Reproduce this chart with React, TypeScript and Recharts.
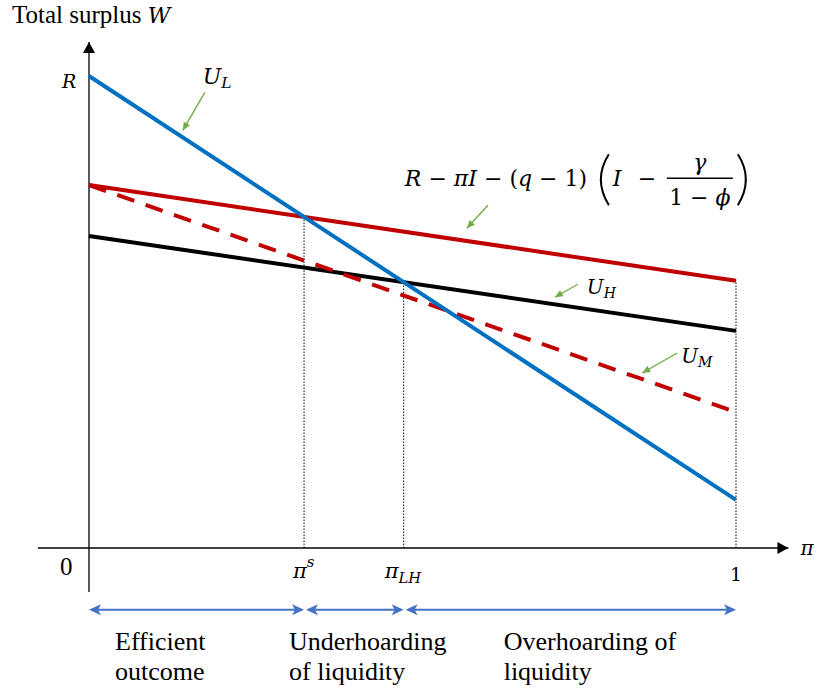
import React from 'react';
import { ComposedChart, Line, XAxis, YAxis, ReferenceLine, ReferenceDot } from 'recharts';

// values at pi = 0 and pi = 1 (units: R = 10)
const piEnds = [0, 1];
const uL = [10, 1.02];
const redSolid = [7.69, 5.66];
const uH = [6.61, 4.6];
const uM = [7.69, 2.88];
const regionLabels = [
  ['Efficient', 'outcome'],
  ['Underhoarding', 'of liquidity'],
  ['Overhoarding of', 'liquidity'],
];

const data = piEnds.map((p, i) => ({ pi: p, uL: uL[i], red: redSolid[i], uH: uH[i], uM: uM[i] }));

const cross = (a: number[], b: number[]) => {
  const x = (b[0] - a[0]) / ((a[1] - a[0]) - (b[1] - b[0]));
  return { x, y: a[0] + (a[1] - a[0]) * x };
};
const at = (s: number[], x: number) => s[0] + (s[1] - s[0]) * x;
const piS = cross(uL, redSolid);
const piLH = cross(uL, uH);

const TEXT = "'Liberation Serif', serif";
const MATH = "'DejaVu Serif', serif";
const BLUE = '#0070C0';
const RED = '#C00000';
const GREEN = '#70AD47';
const ARROWBLUE = '#4472C4';

const arrowHead = (tx: number, ty: number, fx: number, fy: number, len: number, half: number, notch: number, fill: string) => {
  const dx = tx - fx, dy = ty - fy;
  const d = Math.hypot(dx, dy) || 1;
  const ux = dx / d, uy = dy / d;
  const px = -uy, py = ux;
  const bx = tx - ux * len, by = ty - uy * len;
  const nx = tx - ux * (len - notch), ny = ty - uy * (len - notch);
  const pts = [
    [tx, ty],
    [bx + px * half, by + py * half],
    [nx, ny],
    [bx - px * half, by - py * half],
  ];
  return <polygon points={pts.map((p) => p.join(',')).join(' ')} fill={fill} />;
};

const AxisArrow = (props: any) => {
  const { x1, y1, x2, y2 } = props;
  return (
    <g>
      <line x1={x1} y1={y1} x2={x2} y2={y2} stroke="#000" strokeWidth={1.3} />
      {arrowHead(x2, y2, x1, y1, 11, 6, 0, '#000')}
    </g>
  );
};

const DoubleArrow = (props: any) => {
  const { x1, y1, x2, y2 } = props;
  return (
    <g>
      <line x1={x1 + 3} y1={y1} x2={x2 - 3} y2={y2} stroke={ARROWBLUE} strokeWidth={2} />
      {arrowHead(x1, y1, x2, y2, 12, 5.5, 3, ARROWBLUE)}
      {arrowHead(x2, y2, x1, y1, 12, 5.5, 3, ARROWBLUE)}
    </g>
  );
};

const DottedV = (props: any) => {
  const { x1, y1, x2, y2 } = props;
  return <line x1={x1} y1={y1} x2={x2} y2={y2} stroke="#000" strokeWidth={1} strokeDasharray="1.5 1.5" />;
};

const GreenArrow = ({ tx, ty, fx, fy }: any) => (
  <g>
    <line x1={fx} y1={fy} x2={tx} y2={ty} stroke={GREEN} strokeWidth={1.4} />
    {arrowHead(tx, ty, fx, fy, 8, 3.5, 0, GREEN)}
  </g>
);

const Sub = ({ x, y, main, sub, size = 22, drop = 4 }: any) => (
  <text x={x} y={y} style={{ fontFamily: MATH, fontStyle: 'italic', fontSize: size }} fill="#000">
    {main}
    <tspan dy={drop} style={{ fontSize: size * 0.7 }}>{sub}</tspan>
  </text>
);

const Callout = (label: (cx: number, cy: number) => React.ReactNode, fx: number, fy: number) => (p: any) => {
  const { cx, cy } = p;
  return (
    <g>
      <GreenArrow tx={cx} ty={cy} fx={cx + fx} fy={cy + fy} />
      {label(cx, cy)}
    </g>
  );
};

const it = { fontStyle: 'italic' as const };

export default function App() {
  return (
    <div style={{ position: 'absolute', left: 0, top: 0, width: 817, height: 694 }}>
      <ComposedChart width={817} height={694} data={data} margin={{ top: 0, right: 0, bottom: 0, left: 0 }} style={{ overflow: 'visible' }}>
        <XAxis dataKey="pi" type="number" domain={[-0.13756, 1.12519]} allowDataOverflow hide />
        <YAxis type="number" domain={[-3.0932, 11.6102]} allowDataOverflow hide />

        {/* axes */}
        <ReferenceLine segment={[{ x: -0.079, y: 0 }, { x: 1.081, y: 0 }]} shape={AxisArrow} ifOverflow="visible" />
        <ReferenceLine segment={[{ x: 0, y: -0.93 }, { x: 0, y: 10.72 }]} shape={AxisArrow} ifOverflow="visible" />

        {/* dotted guides */}
        <ReferenceLine segment={[{ x: piS.x, y: 0 }, { x: piS.x, y: piS.y }]} shape={DottedV} ifOverflow="visible" />
        <ReferenceLine segment={[{ x: piLH.x, y: 0 }, { x: piLH.x, y: piLH.y }]} shape={DottedV} ifOverflow="visible" />
        <ReferenceLine segment={[{ x: 1, y: 0 }, { x: 1, y: redSolid[1] }]} shape={DottedV} ifOverflow="visible" />

        <Line dataKey="red" type="linear" stroke={RED} strokeWidth={4} dot={false} activeDot={false} isAnimationActive={false} />
        <Line dataKey="uH" type="linear" stroke="#000" strokeWidth={4} dot={false} activeDot={false} isAnimationActive={false} />
        <Line dataKey="uM" type="linear" stroke={RED} strokeWidth={4} strokeDasharray="18 12" dot={false} activeDot={false} isAnimationActive={false} />
        <Line dataKey="uL" type="linear" stroke={BLUE} strokeWidth={4} dot={false} activeDot={false} isAnimationActive={false} />

        {/* region arrows */}
        <ReferenceLine segment={[{ x: 0, y: -1.31 }, { x: piS.x, y: -1.31 }]} shape={DoubleArrow} ifOverflow="visible" />
        <ReferenceLine segment={[{ x: piS.x + 0.003, y: -1.31 }, { x: piLH.x, y: -1.31 }]} shape={DoubleArrow} ifOverflow="visible" />
        <ReferenceLine segment={[{ x: piLH.x + 0.003, y: -1.31 }, { x: 1, y: -1.31 }]} shape={DoubleArrow} ifOverflow="visible" />

        {/* axis labels */}
        <ReferenceDot x={0} y={10.72} ifOverflow="visible" shape={(p: any) => (
          <text x={p.cx - 77} y={p.cy - 19} style={{ fontFamily: TEXT, fontSize: 25 }} fill="#000">
            Total surplus <tspan style={{ fontFamily: MATH, fontStyle: 'italic', fontSize: 22 }}>W</tspan>
          </text>
        )} />
        <ReferenceDot x={0} y={uL[0]} ifOverflow="visible" shape={(p: any) => (
          <text x={p.cx - 27} y={p.cy + 12} style={{ fontFamily: MATH, fontStyle: 'italic', fontSize: 19 }} fill="#000">R</text>
        )} />
        <ReferenceDot x={0} y={0} ifOverflow="visible" shape={(p: any) => (
          <text x={p.cx - 29} y={p.cy + 27} style={{ fontFamily: TEXT, fontSize: 25 }} fill="#000">0</text>
        )} />
        <ReferenceDot x={1} y={0} ifOverflow="visible" shape={(p: any) => (
          <text x={p.cx} y={p.cy + 33} textAnchor="middle" style={{ fontFamily: MATH, fontSize: 19 }} fill="#000">1</text>
        )} />
        <ReferenceDot x={1.081} y={0} ifOverflow="visible" shape={(p: any) => (
          <text x={p.cx + 12} y={p.cy + 7} style={{ fontFamily: MATH, fontStyle: 'italic', fontSize: 20 }} fill="#000">π</text>
        )} />
        <ReferenceDot x={piS.x} y={0} ifOverflow="visible" shape={(p: any) => (
          <text x={p.cx - 11} y={p.cy + 30} style={{ fontFamily: MATH, fontStyle: 'italic', fontSize: 21 }} fill="#000">
            π<tspan dy={-11} style={{ fontSize: 15 }}>s</tspan>
          </text>
        )} />
        <ReferenceDot x={piLH.x} y={0} ifOverflow="visible" shape={(p: any) => (
          <Sub x={p.cx - 19} y={p.cy + 30} main="π" sub="LH" size={21} drop={5} />
        )} />

        {/* region labels */}
        {[0, piS.x, piLH.x].map((x, i) => (
          <ReferenceDot key={i} x={x} y={-1.31} ifOverflow="visible" shape={(p: any) => {
            const lx = p.cx + [26, -15, 100][i];
            return (
              <text x={lx} y={p.cy + 40} style={{ fontFamily: TEXT, fontSize: 26 }} fill="#000">
                <tspan x={lx}>{regionLabels[i][0]}</tspan>
                <tspan x={lx} dy={30}>{regionLabels[i][1]}</tspan>
              </text>
            );
          }} />
        ))}

        {/* callouts */}
        <ReferenceDot x={0.145} y={at(uL, 0.145) + 0.15} ifOverflow="visible" shape={Callout(
          (cx, cy) => <Sub x={cx + 20} y={cy - 46} main="U" sub="L" size={22} />, 22, -38)} />
        <ReferenceDot x={0.72} y={at(uH, 0.72) + 0.15} ifOverflow="visible" shape={Callout(
          (cx, cy) => <Sub x={cx + 32} y={cy - 3} main="U" sub="H" size={20} />, 23, -13)} />
        <ReferenceDot x={0.855} y={at(uM, 0.855) + 0.13} ifOverflow="visible" shape={Callout(
          (cx, cy) => <Sub x={cx + 39} y={cy - 10} main="U" sub="M" size={20} />, 35, -20)} />
        <ReferenceDot x={0.584} y={at(redSolid, 0.584) + 0.27} ifOverflow="visible" shape={Callout(
          (cx, cy) => (
            <g style={{ fontFamily: MATH, fontSize: 22 }} fill="#000">
              <text x={cx - 62} y={cy - 42}>
                <tspan style={it}>R</tspan> − <tspan style={it}>πI</tspan> − (<tspan style={it}>q</tspan> − 1)
              </text>
              <path d={`M ${cx + 142} ${cy - 74} Q ${cx + 126} ${cy - 49} ${cx + 142} ${cy - 23}`} stroke="#000" strokeWidth={2} fill="none" />
              <text x={cx + 146} y={cy - 42} style={it}>I</text>
              <text x={cx + 180} y={cy - 42} textAnchor="middle">−</text>
              <line x1={cx + 200} y1={cy - 50} x2={cx + 266} y2={cy - 50} stroke="#000" strokeWidth={1.3} />
              <text x={cx + 233} y={cy - 58} textAnchor="middle" style={it}>γ</text>
              <text x={cx + 233} y={cy - 23} textAnchor="middle">
                1 − <tspan style={it}>ϕ</tspan>
              </text>
              <path d={`M ${cx + 271} ${cy - 74} Q ${cx + 287} ${cy - 49} ${cx + 271} ${cy - 23}`} stroke="#000" strokeWidth={2} fill="none" />
            </g>
          ), 21, -23)} />
      </ComposedChart>
    </div>
  );
}
